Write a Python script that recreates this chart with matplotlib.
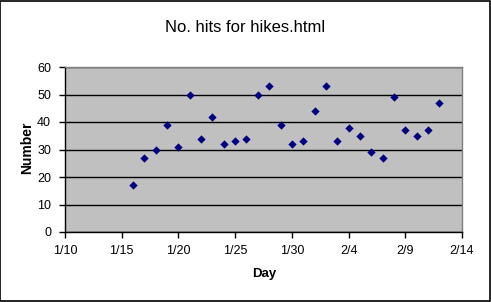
import matplotlib
matplotlib.use("Agg")
import matplotlib.pyplot as plt
import matplotlib.dates as mdates
import pandas as pd

# data: one value per day, 1/16 .. 2/12
days = pd.date_range("2000-01-16", "2000-02-12", freq="D")
hits = [17, 27, 30, 39, 31, 50, 34, 42, 32, 33, 34, 50, 53, 39,
        32, 33, 44, 53, 33, 38, 35, 29, 27, 49, 37, 35, 37, 47]

x_ticks = pd.date_range("2000-01-10", "2000-02-14", freq="5D")
y_ticks = [0, 10, 20, 30, 40, 50, 60]

plt.rcParams['font.family'] = ['Liberation Sans', 'DejaVu Sans']

fig = plt.figure(figsize=(4.91, 3.02), dpi=100)
fig.patch.set_facecolor("white")
# black frame round the whole chart
fig.add_artist(plt.Rectangle((0.001, 0.002), 0.997, 0.995, transform=fig.transFigure,
                             fill=False, edgecolor="black", linewidth=1.2))

ax = fig.add_axes([65 / 491, 70 / 302, 397 / 491, 165 / 302])
ax.set_facecolor("#C0C0C0")
for s in ax.spines.values():
    s.set_color("#808080")
    s.set_linewidth(1)
ax.spines['left'].set_color("black")
ax.spines['bottom'].set_color("black")

ax.scatter(days, hits, marker="D", s=18, color="#000080", zorder=3, linewidths=0)

ax.set_xlim(x_ticks[0], x_ticks[-1])
ax.set_ylim(0, 60)
ax.set_xticks(x_ticks)
ax.set_yticks(y_ticks)
ax.xaxis.set_major_formatter(mdates.DateFormatter("%-m/%-d"))
ax.yaxis.grid(True, color="black", linewidth=1)
ax.set_axisbelow(True)
ax.tick_params(axis="both", direction="out", length=4, width=1, labelsize=9, colors="black")
ax.tick_params(axis="x", pad=5)
ax.tick_params(axis="y", pad=6)

fig.text(264 / 491, 1 - 274 / 302, "Day", ha="center", va="center",
         fontsize=9.5, fontweight="bold")
fig.text(27 / 491, 1 - 148 / 302, "Number", ha="center", va="center",
         rotation=90, fontsize=10, fontweight="bold")
fig.text(245 / 491, 1 - 27 / 302, "No. hits for hikes.html", ha="center", va="center",
         fontsize=12)

fig.savefig("out.png", dpi=100)
